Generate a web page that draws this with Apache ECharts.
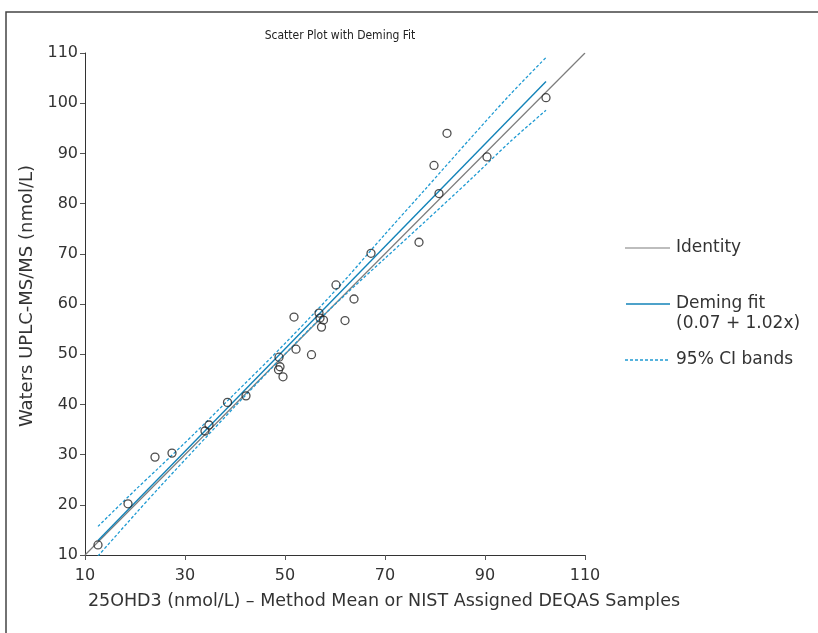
<!DOCTYPE html>
<html>
<head>
<meta charset="utf-8">
<script src="https://cdn.jsdelivr.net/npm/echarts@6/dist/echarts.min.js"></script>
<style>html,body{margin:0;padding:0;background:#fff;}#c{width:818px;height:633px;}</style>
</head>
<body>
<div id="c"></div>
<script>
// Observed samples: [method mean / NIST, Waters UPLC-MS/MS]
const samples = [
  [12.6, 12.0], [18.6, 20.2], [24.0, 29.5], [27.4, 30.3], [34.0, 34.7],
  [34.8, 35.9], [38.5, 40.4], [42.2, 41.7], [48.8, 49.4], [49.0, 47.5],
  [48.7, 46.9], [49.6, 45.5], [52.2, 51.0], [51.8, 57.4], [55.3, 49.9],
  [56.8, 58.2], [57.0, 57.2], [57.7, 56.8], [57.3, 55.4], [60.2, 63.8],
  [62.0, 56.7], [63.8, 61.0], [67.2, 70.1], [76.8, 72.3], [79.8, 87.6],
  [80.8, 82.0], [82.4, 94.0], [90.4, 89.3], [102.2, 101.1]
];
const identityLine = [[10, 10], [110, 110]];
const demingLine = [[12.6, 12.9], [102.2, 104.3]];
const ciX     = [12.6, 20, 25, 32, 40, 47, 55, 62, 70, 78, 87, 95, 102.2];
const ciUpper = [15.7, 22.9, 27.6, 34.3, 42.2, 49.1, 57.3, 64.8, 73.9, 82.8, 92.9, 101.7, 109.1];
const ciLower = [9.8, 18.1, 23.6, 31.1, 39.6, 46.9, 55.1, 61.8, 69.1, 76.4, 84.7, 92.3, 98.6];
const xTicks = [10, 30, 50, 70, 90, 110];
const yTicks = [10, 20, 30, 40, 50, 60, 70, 80, 90, 100, 110];

const FONT = 'DejaVu Sans';
const BLUE = '#1383b8';
const CIBLUE = '#1f9ad2';
const GREY = '#7c7c7c';

const chart = echarts.init(document.getElementById('c'), null, {renderer: 'canvas'});
const upper = ciX.map((x, i) => [x, ciUpper[i]]);
const lower = ciX.map((x, i) => [x, ciLower[i]]);

chart.setOption({
  animation: false,
  backgroundColor: '#fff',
  title: {
    text: 'Scatter Plot with Deming Fit',
    left: 335, top: 23, textAlign: 'center',
    textStyle: {fontFamily: "'DejaVu Sans Condensed', 'Liberation Sans', sans-serif", fontSize: 12, fontWeight: 'normal', color: '#222', lineHeight: 16}
  },
  grid: {left: 85, right: 233, top: 53, bottom: 78, containLabel: false},
  xAxis: {
    type: 'value', min: 10, max: 110, interval: 20,
    name: '25OHD3 (nmol/L) – Method Mean or NIST Assigned DEQAS Samples',
    nameLocation: 'middle', nameGap: 37,
    nameTextStyle: {fontFamily: FONT, fontSize: 17.5, color: '#333', padding: [0, 0, 0, 98]},
    axisLine: {lineStyle: {color: '#333', width: 1}},
    axisTick: {show: true, length: 5, lineStyle: {color: '#555'}},
    axisLabel: {fontFamily: FONT, fontSize: 16, color: '#333', margin: 13,
      formatter: v => xTicks.includes(v) ? String(v) : ''},
    splitLine: {show: false}
  },
  yAxis: {
    type: 'value', min: 10, max: 110, interval: 10,
    name: 'Waters UPLC-MS/MS (nmol/L)',
    nameLocation: 'middle', nameGap: 43, nameRotate: 90,
    nameTextStyle: {fontFamily: FONT, fontSize: 18, color: '#333', padding: [0, 0, 0, 16]},
    axisLine: {show: true, lineStyle: {color: '#333', width: 1}},
    axisTick: {show: true, length: 5, lineStyle: {color: '#555'}},
    axisLabel: {fontFamily: FONT, fontSize: 16, color: '#333', margin: 7,
      formatter: v => yTicks.includes(v) ? String(v) : ''},
    splitLine: {show: false}
  },
  series: [
    {name: 'Identity', type: 'line', data: identityLine, symbol: 'none',
      lineStyle: {color: GREY, width: 1.2}, z: 2},
    {name: 'CI upper', type: 'line', data: upper, symbol: 'none', smooth: 0.3,
      lineStyle: {color: CIBLUE, width: 1.3, type: [3, 2]}, z: 3},
    {name: 'CI lower', type: 'line', data: lower, symbol: 'none', smooth: 0.3,
      lineStyle: {color: CIBLUE, width: 1.3, type: [3, 2]}, z: 3},
    {name: 'Deming fit', type: 'line', data: demingLine, symbol: 'none',
      lineStyle: {color: BLUE, width: 1.4}, z: 4},
    {name: 'Samples', type: 'scatter', data: samples, symbol: 'circle', symbolSize: 8,
      itemStyle: {color: 'rgba(255,255,255,0)', borderColor: '#222', borderWidth: 1.3}, z: 5}
  ],
  graphic: [
    {type: 'rect', shape: {x: 6, y: 12, width: 900, height: 700}, style: {fill: 'none', stroke: '#444', lineWidth: 1.5}, silent: true, z: -1},
    {type: 'line', shape: {x1: 625, y1: 248, x2: 670, y2: 248}, style: {stroke: GREY, lineWidth: 1.2}},
    {type: 'text', left: 676, top: 238, style: {text: 'Identity', fontFamily: FONT, fontSize: 17, lineHeight: 20, fill: '#333'}},
    {type: 'line', shape: {x1: 626, y1: 304, x2: 670, y2: 304}, style: {stroke: BLUE, lineWidth: 1.4}},
    {type: 'text', left: 676, top: 294, style: {text: 'Deming fit\n(0.07 + 1.02x)', fontFamily: FONT, fontSize: 17, lineHeight: 20, fill: '#333'}},
    {type: 'line', shape: {x1: 625, y1: 360, x2: 670, y2: 360}, style: {stroke: CIBLUE, lineWidth: 1.3, lineDash: [3, 2]}},
    {type: 'text', left: 676, top: 350, style: {text: '95% CI bands', fontFamily: FONT, fontSize: 17, lineHeight: 20, fill: '#333'}}
  ]
});
</script>
</body>
</html>
